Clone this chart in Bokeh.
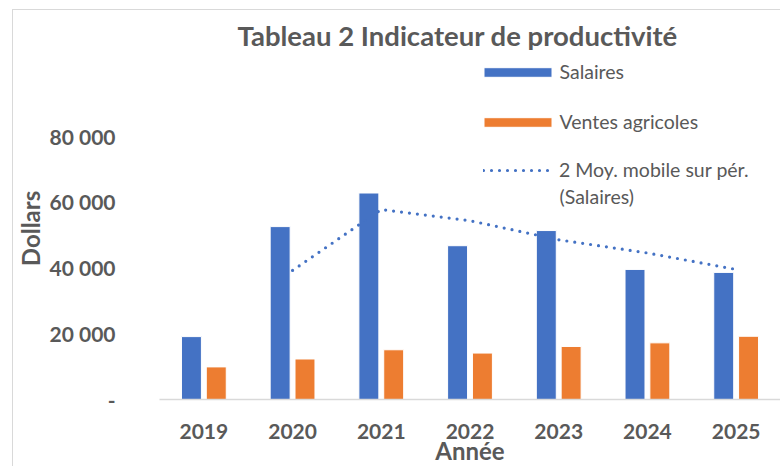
from bokeh.plotting import figure
from bokeh.models import (ColumnDataSource, FactorRange, Range1d, FixedTicker,
                          Legend, LegendItem, Title, Label)
from bokeh.transform import dodge
from bokeh.embed import file_html
from bokeh.resources import INLINE

years = ["2019", "2020", "2021", "2022", "2023", "2024", "2025"]
salaires = [19100, 52500, 62700, 46700, 51300, 39500, 38600]
ventes = [9900, 12300, 15100, 14100, 16100, 17200, 19200]
ma_years = ["2020", "2021", "2022", "2023", "2024", "2025"]
moy_mobile = [39200, 57700, 54300, 48500, 44500, 39500]
y_ticks = [0, 20000, 40000, 60000, 80000]
y_tick_labels = ["-", "20 000", "40 000", "60 000", "80 000"]

BLUE = "#4472C4"
ORANGE = "#ED7D31"
GRAY = "#595959"
FONT = "Lato"

src = ColumnDataSource(dict(years=years, salaires=salaires, ventes=ventes))
ma_src = ColumnDataSource(dict(years=ma_years, ma=moy_mobile))

p = figure(width=768, height=457, output_backend="svg", toolbar_location=None,
           x_range=FactorRange(*years, range_padding=0),
           y_range=Range1d(0, 103849),
           min_border_left=144, min_border_right=1, min_border_top=46,
           min_border_bottom=67, margin=(9, 0, 0, 12),
           styles={"border-left": "1px solid #D9D9D9",
                   "border-top": "1px solid #D9D9D9"})
p.title = None

r1 = p.vbar(x=dodge("years", -0.14, range=p.x_range), top="salaires", width=0.225,
            source=src, fill_color=BLUE, line_color="white", line_width=1)
r2 = p.vbar(x=dodge("years", 0.14, range=p.x_range), top="ventes", width=0.225,
            source=src, fill_color=ORANGE, line_color="white", line_width=1)
r3 = p.line(x="years", y="ma", source=ma_src, line_color=BLUE, line_width=3.2,
            line_dash="0 8", line_cap="round")

t = Title(text="Tableau 2 Indicateur de productivité", align="left", offset=78,
          standoff=12, text_font=FONT, text_font_size="27.5px",
          text_font_style="bold", text_color=GRAY)
p.add_layout(t, "above")

leg_style = dict(background_fill_alpha=0, border_line_alpha=0,
                 label_text_font=FONT, label_text_font_size="19.5px",
                 label_text_color=GRAY, spacing=27, label_height=22,
                 padding=0, margin=0)
legend_bars = Legend(items=[LegendItem(label="Salaires", renderers=[r1]),
                            LegendItem(label="Ventes agricoles", renderers=[r2])],
                     location=(315.5, 266), glyph_width=85, glyph_height=12,
                     label_standoff=0, **leg_style)
legend_line = Legend(items=[LegendItem(label="2 Moy. mobile sur pér.", renderers=[r3])],
                     location=(324, 218), glyph_width=68, glyph_height=10,
                     label_standoff=8, **leg_style)
p.add_layout(legend_bars, "center")
p.add_layout(legend_line, "center")
p.add_layout(Label(x=400, y=203, x_units="screen", y_units="screen",
                   text="(Salaires)", text_font=FONT, text_font_size="19.5px",
                   text_color=GRAY, text_baseline="middle"))

p.xgrid.visible = False
p.ygrid.visible = False
p.outline_line_color = None

p.yaxis.ticker = FixedTicker(ticks=y_ticks)
p.yaxis.major_label_overrides = {t_: l for t_, l in zip(y_ticks, y_tick_labels)}
p.yaxis.axis_line_color = None
p.yaxis.major_tick_line_color = None
p.yaxis.minor_tick_line_color = None
p.yaxis.major_label_standoff = 38
p.yaxis.axis_label = "Dollars"
p.yaxis.axis_label_standoff = 1

p.xaxis.axis_line_color = "#D9D9D9"
p.xaxis.axis_line_width = 1.5
p.xaxis.major_tick_line_color = None
p.xaxis.minor_tick_line_color = None
p.xaxis.major_label_standoff = 18
p.xaxis.axis_label = "Année"
p.xaxis.axis_label_standoff = -6

for ax in (p.xaxis[0], p.yaxis[0]):
    ax.major_label_text_font = FONT
    ax.major_label_text_font_size = "21px"
    ax.major_label_text_font_style = "bold"
    ax.major_label_text_color = GRAY
    ax.axis_label_text_font = FONT
    ax.axis_label_text_font_size = "24px"
    ax.axis_label_text_font_style = "bold"
    ax.axis_label_text_color = GRAY

open("out.html", "w").write(file_html(p, INLINE))
